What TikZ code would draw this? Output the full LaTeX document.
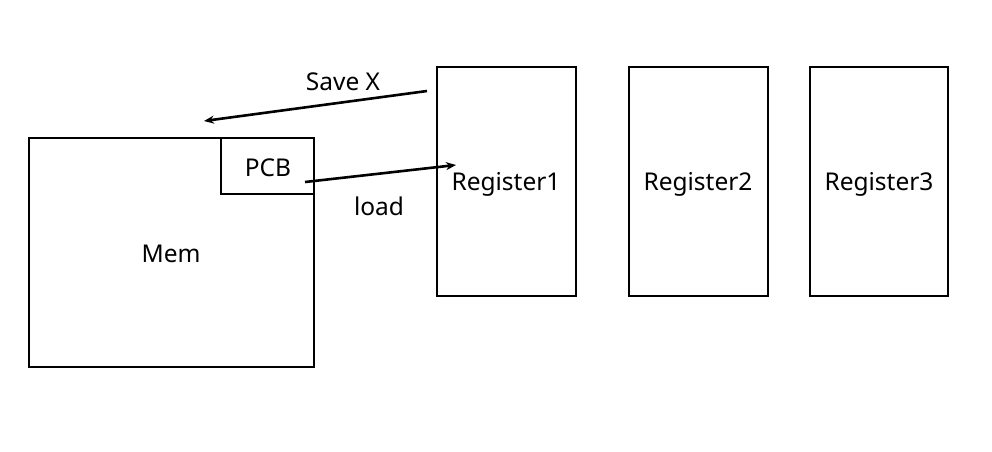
\documentclass[tikz,border=0pt]{standalone}
\usepackage{fontspec}
\setmainfont{Noto Sans}
\usetikzlibrary{arrows.meta}
\begin{document}
\begin{tikzpicture}[x=1pt,y=-1pt,
  box/.style={draw,line width=1.6pt,inner sep=0pt},
  lbl/.style={font=\fontsize{24.5}{28}\selectfont,inner sep=0pt},
  arr/.style={line width=2.6pt,-{Stealth[length=10pt,width=8pt]}}]
\useasboundingbox (0,0) rectangle (992,451);
\draw[box] (29,138) rectangle (314,367);
\node[lbl] (mem) at (171,254) {Mem};
\draw[box] (221,138) rectangle (314,194);
\node[lbl] (pcb) at (268,168) {PCB};
\draw[box] (437,67) rectangle (576,296);
\node[lbl] (r1) at (506,184) {Register1};
\draw[box] (629,67) rectangle (768,296);
\node[lbl] (r2) at (698,184) {Register2};
\draw[box] (810,67) rectangle (948,296);
\node[lbl] (r3) at (879,184) {Register3};
\coordinate (s1) at (427,91);
\coordinate (s2) at (204,121);
\coordinate (l1) at (305,182);
\coordinate (l2) at (456,165);
\draw[arr] (s1) -- (s2);
\draw[arr] (l1) -- (l2);
\node[lbl] (savex) at (343,82) {Save X};
\node[lbl] (load) at (379,206) {load};
\end{tikzpicture}
\end{document}
